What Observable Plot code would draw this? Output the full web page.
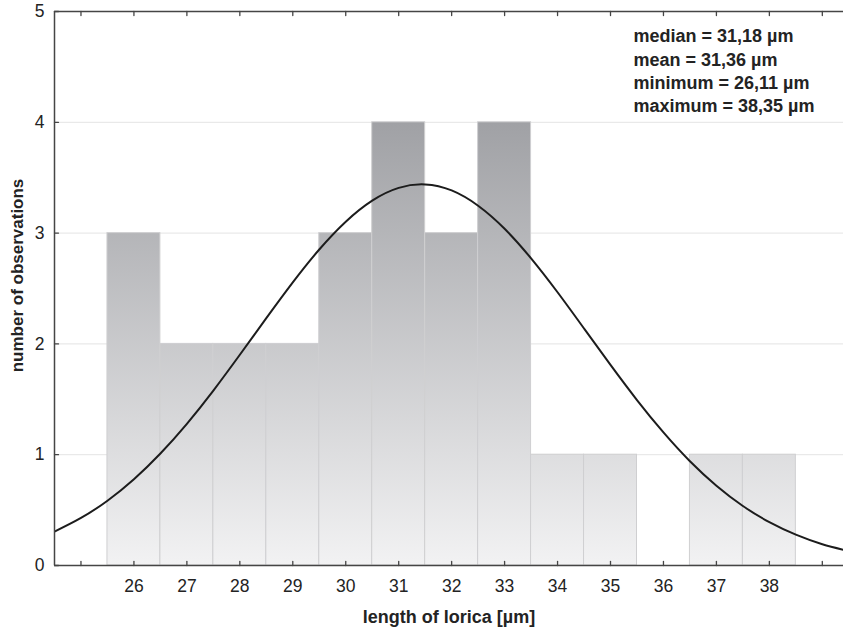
<!DOCTYPE html>
<html>
<head>
<meta charset="utf-8">
<script src="https://cdn.jsdelivr.net/npm/d3@7"></script>
<script src="https://cdn.jsdelivr.net/npm/@observablehq/plot@0.6"></script>
<style>
  html, body { margin: 0; padding: 0; background: #fff; }
  svg { display: block; }
</style>
</head>
<body>
<div id="chart"></div>
<script>
// ---- data ----
const binCenters = [26, 27, 28, 29, 30, 31, 32, 33, 34, 35, 36, 37, 38];
const counts     = [3, 2, 2, 2, 3, 4, 3, 4, 1, 1, 0, 1, 1];

const curveX = [24.5, 25, 25.5, 26, 26.5, 27, 27.5, 28, 28.5, 29, 29.5, 30, 30.5, 31, 31.5,
                32, 32.5, 33, 33.5, 34, 34.5, 35, 35.5, 36, 36.5, 37, 37.5, 38, 38.5, 39, 39.5];
const curveY = [0.306, 0.429, 0.585, 0.779, 1.011, 1.279, 1.579, 1.902, 2.232, 2.555, 2.852, 3.103, 3.293, 3.408, 3.439,
                3.385, 3.247, 3.039, 2.772, 2.466, 2.139, 1.810, 1.493, 1.201, 0.941, 0.720, 0.537, 0.391, 0.278, 0.192, 0.130];

const xTickValues  = [25, 26, 27, 28, 29, 30, 31, 32, 33, 34, 35, 36, 37, 38, 39];
const xLabelValues = [26, 27, 28, 29, 30, 31, 32, 33, 34, 35, 36, 37, 38];
const yTickValues  = [0, 1, 2, 3, 4, 5];
const gridValues   = [1, 2, 3, 4];

const statsLines = [
  "median = 31,18 µm",
  "mean = 31,36 µm",
  "minimum = 26,11 µm",
  "maximum = 38,35 µm"
];
const xLabel = "length of lorica [µm]";
const yLabel = "number of observations";

// ---- build tables ----
const bins = binCenters
  .map((c, i) => ({x1: c - 0.5, x2: c + 0.5, count: counts[i]}))
  .filter(d => d.count > 0);
const curve = curveX.map((x, i) => ({x, y: curveY[i]}));

const tickShape = { draw(ctx, l) { ctx.moveTo(0, 0); ctx.lineTo(0, -l); } };
const axisColor = "#454545";
const textColor = "#232323";

const chart = Plot.plot({
  width: 843,
  height: 631,
  marginLeft: 54,
  marginRight: 0,
  marginTop: 11,
  marginBottom: 66,
  style: { fontFamily: "'Liberation Sans', Arial, sans-serif", fontSize: "17px", color: textColor, background: "#fff" },
  x: { domain: [24.5, 39.4], axis: null },
  y: { domain: [0, 5], axis: null },
  marks: [
    Plot.gridY(gridValues, { stroke: "#e4e4e4", strokeOpacity: 1, strokeWidth: 1 }),
    Plot.rectY(bins, { x1: "x1", x2: "x2", y: "count", fill: "url(#barGrad)", stroke: "#cfcfd1", strokeWidth: 1 }),
    Plot.line(curve, { x: "x", y: "y", curve: "natural", stroke: "#1c1c1c", strokeWidth: 2, clip: true }),
    // frame
    Plot.ruleY([0, 5], { stroke: axisColor, strokeWidth: 1.5 }),
    Plot.ruleX([24.5], { stroke: axisColor, strokeWidth: 1.5 }),
    // inward ticks
    Plot.vector(xTickValues, { x: d => d, y: () => 0, length: 4, rotate: 0, anchor: "start", shape: tickShape, stroke: axisColor, strokeWidth: 1.3 }),
    Plot.vector(xTickValues, { x: d => d, y: () => 5, length: 4, rotate: 180, anchor: "start", shape: tickShape, stroke: axisColor, strokeWidth: 1.3 }),
    Plot.vector(yTickValues, { x: () => 24.5, y: d => d, length: 4, rotate: 90, anchor: "start", shape: tickShape, stroke: axisColor, strokeWidth: 1.3 }),
    // tick labels
    Plot.text(xLabelValues, { x: d => d, text: d => String(d), frameAnchor: "bottom", lineAnchor: "middle", textAnchor: "middle", dy: 21, fontSize: 17.5, fill: textColor }),
    Plot.text(yTickValues, { y: d => d, text: d => String(d), frameAnchor: "left", lineAnchor: "middle", textAnchor: "end", dx: -10, fontSize: 17.5, fill: textColor }),
    // axis titles
    Plot.text([xLabel], { text: d => d, frameAnchor: "bottom", lineAnchor: "middle", textAnchor: "middle", dy: 52, fontSize: 18, fontWeight: "bold", fill: textColor }),
    Plot.text([yLabel], { text: d => d, frameAnchor: "left", lineAnchor: "middle", textAnchor: "middle", rotate: -90, dx: -37, dy: -13, fontSize: 17, fontWeight: "bold", fill: textColor }),
    // statistics annotation
    Plot.text([statsLines.join("\n")], { text: d => d, frameAnchor: "top-left", dx: 579, dy: 14, textAnchor: "start", lineAnchor: "top", lineHeight: 1.3, fontSize: 18, fontWeight: "bold", fill: textColor })
  ]
});

// vertical grey gradient for the bars, tied to the y scale (dark at 4, light at 0)
const ys = chart.scale("y");
const defs = d3.select(chart).insert("defs", ":first-child");
const grad = defs.append("linearGradient")
  .attr("id", "barGrad")
  .attr("gradientUnits", "userSpaceOnUse")
  .attr("x1", 0).attr("x2", 0)
  .attr("y1", ys.apply(4)).attr("y2", ys.apply(0));
grad.append("stop").attr("offset", 0).attr("stop-color", "#a0a1a5");
grad.append("stop").attr("offset", 1).attr("stop-color", "#f2f2f3");

document.getElementById("chart").appendChild(chart);
</script>
</body>
</html>
